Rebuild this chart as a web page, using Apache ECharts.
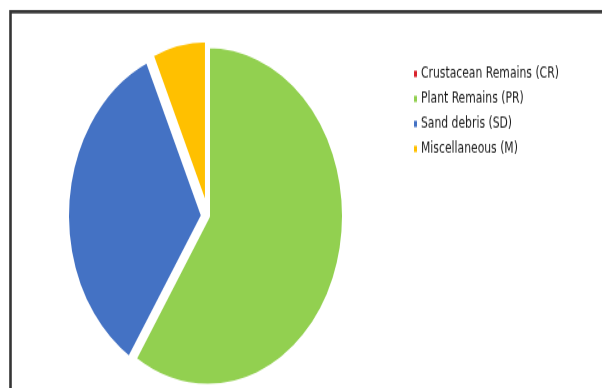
<!DOCTYPE html>
<html>
<head>
<meta charset="utf-8">
<script src="https://cdn.jsdelivr.net/npm/echarts@6/dist/echarts.min.js"></script>
<style>
  html, body { margin: 0; padding: 0; background: #fff; overflow: hidden; }
  #wrap { width: 602px; height: 388px; overflow: hidden; position: relative; }
  /* the reference picture is stretched vertically; reproduce by scaling the chart */
  #chart { width: 602px; height: 310px; transform: scale(1, 1.2516); transform-origin: 0 0; }
</style>
</head>
<body>
<div id="wrap"><div id="chart"></div></div>
<script>
const categories = ['Crustacean Remains (CR)', 'Plant Remains (PR)', 'Sand debris (SD)', 'Miscellaneous (M)'];
const values = [0, 59.1, 34.2, 6.7];
const colors = ['#D9232D', '#92D050', '#4472C4', '#FFC000'];
const exploded = [false, false, true, true];

const chart = echarts.init(document.getElementById('chart'), null, { renderer: 'canvas' });
chart.setOption({
  animation: false,
  backgroundColor: '#ffffff',
  color: colors,
  graphic: [{
    type: 'rect',
    silent: true,
    shape: { x: 10.5, y: 9.4, width: 700, height: 400 },
    style: { fill: 'none', stroke: '#353535', lineWidth: 2.6 }
  }],
  legend: {
    orient: 'vertical',
    left: 407,
    top: 47,
    icon: 'rect',
    itemWidth: 5,
    itemHeight: 7,
    itemGap: 6,
    selectedMode: false,
    textStyle: {
      fontFamily: "'Liberation Sans Narrow', 'DejaVu Sans Condensed', sans-serif",
      fontSize: 12,
      lineHeight: 14,
      fontWeight: 500,
      color: '#1a1a1a',
      padding: [0, 0, 0, -2]
    },
    data: categories
  },
  series: [{
    type: 'pie',
    center: [208, 172.6],
    radius: 136,
    startAngle: 90,
    clockwise: true,
    silent: true,
    selectedMode: 'multiple',
    selectedOffset: 5,
    avoidLabelOverlap: false,
    label: { show: false },
    labelLine: { show: false },
    itemStyle: { borderColor: '#ffffff', borderWidth: 4 },
    data: categories.map((name, i) => ({
      name: name,
      value: values[i],
      selected: exploded[i],
      itemStyle: { color: colors[i] }
    }))
  }]
});
</script>
</body>
</html>
